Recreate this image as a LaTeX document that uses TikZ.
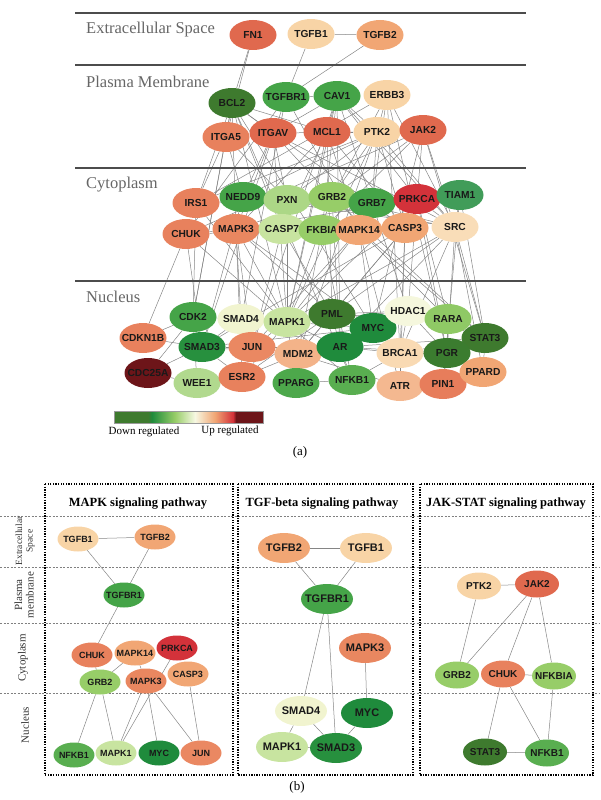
\documentclass[tikz,border=0pt]{standalone}
\usepackage{fontspec}
\setmainfont{Liberation Serif}
\setsansfont{Liberation Sans}
\usetikzlibrary{positioning, shapes.geometric, backgrounds}
\definecolor{cG1}{HTML}{3E7A2E}
\definecolor{cG2}{HTML}{1F8B3C}
\definecolor{cG3}{HTML}{45A448}
\definecolor{cG4}{HTML}{97CD68}
\definecolor{cG5}{HTML}{C8E4A0}
\definecolor{cG6}{HTML}{F1F4CF}
\definecolor{cO1}{HTML}{F8D4A6}
\definecolor{cO2}{HTML}{F1A674}
\definecolor{cO3}{HTML}{E8815D}
\definecolor{cO4}{HTML}{E0694E}
\definecolor{cR1}{HTML}{D3323A}
\definecolor{cR2}{HTML}{6D1519}
\tikzset{
  gene/.style={ellipse, inner ysep=0pt, inner xsep=-5pt, text=black!90,
    font=\sffamily\bfseries\fontsize{10.2}{11}\selectfont,
    minimum width=47pt, minimum height=30pt},
  mk/.style={gene, inner xsep=-4pt, font=\sffamily\bfseries\fontsize{9}{10}\selectfont,
    minimum width=41pt, minimum height=25pt},
  tg/.style={gene, inner xsep=-5pt, font=\sffamily\bfseries\fontsize{11}{12}\selectfont,
    minimum width=52pt, minimum height=30pt},
  js/.style={gene, inner xsep=-5pt, font=\sffamily\bfseries\fontsize{10}{11}\selectfont,
    minimum width=44pt, minimum height=27pt},
  lnk/.style={draw=black!48, line width=0.5pt},
  zone/.style={draw=black!70, line width=1.7pt},
  zlbl/.style={anchor=west, inner sep=0pt, text=black!60, font=\fontsize{16.5}{18}\selectfont},
  dotbox/.style={draw=black, line width=1.5pt, dash pattern=on 1.3pt off 1.3pt},
  band/.style={draw=black!50, line width=0.4pt, dash pattern=on 2pt off 1.5pt},
  side/.style={rotate=90, align=center, text=black!80, font=\fontsize{11}{11.5}\selectfont},
  ttl/.style={font=\bfseries\fontsize{12.5}{14}\selectfont},
  subcap/.style={font=\fontsize{13}{15}\selectfont},
  keylbl/.style={font=\fontsize{11}{12}\selectfont},
}
\begin{document}
\begin{tikzpicture}[x=1pt, y=-1pt]
  \useasboundingbox (0,0) rectangle (600,800);

  % (a) compartments
  \draw[zone] (75,13) -- (526,13);
  \draw[zone] (75,65) -- (526,65);
  \draw[zone] (75,168) -- (526,168);
  \draw[zone] (75,281) -- (526,281);
  \node[zlbl] (l-ext) at (86,30) {Extracellular Space};
  \node[zlbl] (l-pm) at (86,82) {Plasma Membrane};
  \node[zlbl] (l-cyt) at (86,185) {Cytoplasm};
  \node[zlbl] (l-nuc) at (86,297) {Nucleus};

  \node[gene, fill=cO4] (fn1) at (253,35) {FN1};
  \node[gene, fill=cO1] (tgfb1) at (311,34) {TGFB1};
  \node[gene, fill=cO2] (tgfb2) at (380,35) {TGFB2};

  \node[gene, fill=cG1] (bcl2) at (232,103) {BCL2};
  \node[gene, fill=cG3] (tgfbr1) at (286,97) {TGFBR1};
  \node[gene, fill=cG3] (cav1) at (337,96) {CAV1};
  \node[gene, fill=cO1] (erbb3) at (387,95) {ERBB3};
  \node[gene, fill=cO3] (itga5) at (226,137) {ITGA5};
  \node[gene, fill=cO4] (itgav) at (273,133) {ITGAV};
  \node[gene, fill=cO4] (mcl1) at (327,132) {MCL1};
  \node[gene, fill=cO1] (ptk2) at (377,132) {PTK2};
  \node[gene, fill=cO4] (jak2) at (423,130) {JAK2};

  \node[gene, fill=cO3] (irs1) at (196,203) {IRS1};
  \node[gene, fill=cG3] (nedd9) at (243,197) {NEDD9};
  \node[gene, fill=cG4!80!white] (pxn) at (287,200) {PXN};
  \node[gene, fill=cG4] (grb2) at (332,197) {GRB2};
  \node[gene, fill=cG3] (grb7) at (372,203) {GRB7};
  \node[gene, fill=cR1] (prkca) at (417,199) {PRKCA};
  \node[gene, fill=cG2!85!white] (tiam1) at (460,195) {TIAM1};
  \node[gene, fill=cO3] (chuk) at (186,234) {CHUK};
  \node[gene, fill=cO3!85!cO2] (mapk3) at (236,229) {MAPK3};
  \node[gene, fill=cG5] (casp7) at (282,229) {CASP7};
  \node[gene, fill=cG4] (fkbia) at (322,230) {FKBIA};
  \node[gene, fill=cO2] (mapk14) at (359,230) {MAPK14};
  \node[gene, fill=cO2] (casp3) at (405,228) {CASP3};
  \node[gene, fill=cO1!80!white] (src) at (455,227) {SRC};

  \node[gene, fill=cG3] (cdk2) at (193,317) {CDK2};
  \node[gene, fill=cG6] (smad4) at (241,319) {SMAD4};
  \node[gene, fill=cG5] (mapk1) at (287,322) {MAPK1};
  \node[gene, fill=cG1] (pml) at (332,314) {PML};
  \node[gene, fill=cG2] (myc) at (373,328) {MYC};
  \node[gene, fill=cG6!70!white] (hdac1) at (408,311) {HDAC1};
  \node[gene, fill=cG4!90!cG3] (rara) at (448,319) {RARA};
  \node[gene, fill=cO3] (cdkn1b) at (143,338) {CDKN1B};
  \node[gene, fill=cG2!80!cG3] (smad3) at (202,347) {SMAD3};
  \node[gene, fill=cO3!80!cO2] (jun) at (252,347) {JUN};
  \node[gene, fill=cO2!85!white] (mdm2) at (298,354) {MDM2};
  \node[gene, fill=cG2] (ar) at (340,347) {AR};
  \node[gene, fill=cO1!85!white] (brca1) at (400,353) {BRCA1};
  \node[gene, fill=cG1] (stat3) at (485,338) {STAT3};
  \node[gene, fill=cG1!90!cG2] (pgr) at (447,353) {PGR};
  \node[gene, fill=cR2] (cdc25a) at (148,373) {CDC25A};
  \node[gene, fill=cG4!75!white] (wee1) at (197,383) {WEE1};
  \node[gene, fill=cO3] (esr2) at (242,377) {ESR2};
  \node[gene, fill=cG3!90!cG4] (pparg) at (296,383) {PPARG};
  \node[gene, fill=cG3!75!cG4] (nfkb1) at (352,380) {NFKB1};
  \node[gene, fill=cO2!80!white] (atr) at (400,386) {ATR};
  \node[gene, fill=cO3!85!cO4] (pin1) at (443,384) {PIN1};
  \node[gene, fill=cO2] (ppard) at (483,372) {PPARD};

  \begin{scope}[on background layer]
    \draw[lnk] (fn1)--(bcl2); \draw[lnk] (fn1)--(itga5); \draw[lnk] (tgfb1)--(tgfb2);
    \draw[lnk] (tgfb1)--(tgfbr1); \draw[lnk] (tgfb2)--(tgfbr1);
    \draw[lnk] (bcl2)--(itga5); \draw[lnk] (bcl2)--(itgav); \draw[lnk] (bcl2)--(mcl1);
    \draw[lnk] (tgfbr1)--(cav1); \draw[lnk] (cav1)--(itgav); \draw[lnk] (cav1)--(mcl1);
    \draw[lnk] (erbb3)--(ptk2); \draw[lnk] (mcl1)--(ptk2); \draw[lnk] (ptk2)--(jak2);
    \draw[lnk] (itgav)--(ptk2); \draw[lnk] (cav1)--(ptk2);
    \draw[lnk] (bcl2)--(irs1); \draw[lnk] (bcl2)--(mapk3); \draw[lnk] (bcl2)--(casp7);
    \draw[lnk] (bcl2)--(casp3); \draw[lnk] (itga5)--(irs1); \draw[lnk] (itga5)--(nedd9);
    \draw[lnk] (itga5)--(pxn); \draw[lnk] (itgav)--(pxn); \draw[lnk] (itgav)--(src);
    \draw[lnk] (itgav)--(grb2); \draw[lnk] (itgav)--(mapk3); \draw[lnk] (itgav)--(nedd9);
    \draw[lnk] (tgfbr1)--(mapk14); \draw[lnk] (tgfbr1)--(chuk); \draw[lnk] (cav1)--(src);
    \draw[lnk] (cav1)--(grb7); \draw[lnk] (cav1)--(prkca); \draw[lnk] (cav1)--(fkbia);
    \draw[lnk] (erbb3)--(grb2); \draw[lnk] (erbb3)--(grb7); \draw[lnk] (erbb3)--(src);
    \draw[lnk] (erbb3)--(irs1); \draw[lnk] (mcl1)--(casp3); \draw[lnk] (mcl1)--(mapk3);
    \draw[lnk] (mcl1)--(mapk14); \draw[lnk] (mcl1)--(casp7); \draw[lnk] (ptk2)--(pxn);
    \draw[lnk] (ptk2)--(grb2); \draw[lnk] (ptk2)--(grb7); \draw[lnk] (ptk2)--(nedd9);
    \draw[lnk] (ptk2)--(src); \draw[lnk] (ptk2)--(casp3); \draw[lnk] (ptk2)--(irs1);
    \draw[lnk] (jak2)--(grb2); \draw[lnk] (jak2)--(src); \draw[lnk] (jak2)--(prkca);
    \draw[lnk] (jak2)--(chuk); \draw[lnk] (jak2)--(fkbia);
    \draw[lnk] (bcl2)--(cdk2); \draw[lnk] (bcl2)--(mapk1); \draw[lnk] (bcl2)--(nfkb1);
    \draw[lnk] (bcl2)--(myc); \draw[lnk] (itga5)--(cdk2); \draw[lnk] (itgav)--(mapk1);
    \draw[lnk] (tgfbr1)--(smad3); \draw[lnk] (tgfbr1)--(smad4); \draw[lnk] (cav1)--(ar);
    \draw[lnk] (cav1)--(mapk1); \draw[lnk] (cav1)--(esr2); \draw[lnk] (mcl1)--(mapk1);
    \draw[lnk] (mcl1)--(pml); \draw[lnk] (ptk2)--(mapk1); \draw[lnk] (ptk2)--(mdm2);
    \draw[lnk] (jak2)--(stat3); \draw[lnk] (jak2)--(myc); \draw[lnk] (erbb3)--(brca1);
    \draw[lnk] (erbb3)--(pgr);
    \draw[lnk] (irs1)--(grb2); \draw[lnk] (nedd9)--(pxn); \draw[lnk] (nedd9)--(src);
    \draw[lnk] (pxn)--(src); \draw[lnk] (grb2)--(grb7); \draw[lnk] (grb2)--(src);
    \draw[lnk] (grb2)--(mapk3); \draw[lnk] (grb7)--(prkca); \draw[lnk] (prkca)--(tiam1);
    \draw[lnk] (tiam1)--(src); \draw[lnk] (chuk)--(fkbia); \draw[lnk] (chuk)--(mapk3);
    \draw[lnk] (mapk3)--(mapk14); \draw[lnk] (casp7)--(casp3); \draw[lnk] (fkbia)--(mapk14);
    \draw[lnk] (prkca)--(mapk3); \draw[lnk] (prkca)--(src); \draw[lnk] (irs1)--(pxn);
    \draw[lnk] (irs1)--(mapk1); \draw[lnk] (irs1)--(cdk2); \draw[lnk] (chuk)--(nfkb1);
    \draw[lnk] (chuk)--(cdkn1b); \draw[lnk] (chuk)--(smad3); \draw[lnk] (nedd9)--(smad3);
    \draw[lnk] (mapk3)--(mapk1); \draw[lnk] (mapk3)--(myc); \draw[lnk] (mapk3)--(jun);
    \draw[lnk] (mapk3)--(esr2); \draw[lnk] (mapk3)--(pml); \draw[lnk] (mapk3)--(smad4);
    \draw[lnk] (pxn)--(mapk1); \draw[lnk] (grb2)--(mapk1); \draw[lnk] (grb2)--(stat3);
    \draw[lnk] (grb2)--(ar); \draw[lnk] (grb7)--(hdac1); \draw[lnk] (casp7)--(pml);
    \draw[lnk] (casp7)--(jun); \draw[lnk] (fkbia)--(nfkb1); \draw[lnk] (fkbia)--(mdm2);
    \draw[lnk] (mapk14)--(jun); \draw[lnk] (mapk14)--(myc); \draw[lnk] (mapk14)--(stat3);
    \draw[lnk] (mapk14)--(mapk1); \draw[lnk] (mapk14)--(atr); \draw[lnk] (mapk14)--(rara);
    \draw[lnk] (casp3)--(mdm2); \draw[lnk] (casp3)--(brca1); \draw[lnk] (casp3)--(pml);
    \draw[lnk] (casp3)--(smad3); \draw[lnk] (casp3)--(atr); \draw[lnk] (prkca)--(mapk1);
    \draw[lnk] (prkca)--(rara); \draw[lnk] (prkca)--(pgr); \draw[lnk] (prkca)--(hdac1);
    \draw[lnk] (src)--(stat3); \draw[lnk] (src)--(ar); \draw[lnk] (src)--(pgr);
    \draw[lnk] (src)--(esr2); \draw[lnk] (src)--(mapk1); \draw[lnk] (src)--(brca1);
    \draw[lnk] (src)--(ppard); \draw[lnk] (tiam1)--(pin1); \draw[lnk] (tiam1)--(stat3);
    \draw[lnk] (cdk2)--(cdkn1b); \draw[lnk] (cdk2)--(smad3); \draw[lnk] (cdk2)--(cdc25a);
    \draw[lnk] (cdk2)--(wee1); \draw[lnk] (cdk2)--(smad4); \draw[lnk] (cdkn1b)--(smad3);
    \draw[lnk] (cdc25a)--(smad3); \draw[lnk] (cdc25a)--(wee1); \draw[lnk] (smad4)--(smad3);
    \draw[lnk] (smad4)--(mapk1); \draw[lnk] (smad3)--(jun); \draw[lnk] (smad3)--(myc);
    \draw[lnk] (smad3)--(ar); \draw[lnk] (smad3)--(esr2); \draw[lnk] (smad3)--(mdm2);
    \draw[lnk] (jun)--(mapk1); \draw[lnk] (jun)--(esr2); \draw[lnk] (jun)--(ar);
    \draw[lnk] (jun)--(mdm2); \draw[lnk] (mapk1)--(pml); \draw[lnk] (mapk1)--(myc);
    \draw[lnk] (mapk1)--(ar); \draw[lnk] (mapk1)--(esr2); \draw[lnk] (mapk1)--(pparg);
    \draw[lnk] (mapk1)--(hdac1); \draw[lnk] (pml)--(myc); \draw[lnk] (pml)--(hdac1);
    \draw[lnk] (pml)--(ar); \draw[lnk] (pml)--(mdm2); \draw[lnk] (myc)--(hdac1);
    \draw[lnk] (myc)--(brca1); \draw[lnk] (hdac1)--(rara); \draw[lnk] (hdac1)--(brca1);
    \draw[lnk] (hdac1)--(stat3); \draw[lnk] (hdac1)--(pgr); \draw[lnk] (rara)--(stat3);
    \draw[lnk] (rara)--(pgr); \draw[lnk] (mdm2)--(ar); \draw[lnk] (mdm2)--(pparg);
    \draw[lnk] (mdm2)--(atr); \draw[lnk] (ar)--(brca1); \draw[lnk] (ar)--(pgr);
    \draw[lnk] (ar)--(stat3); \draw[lnk] (ar)--(nfkb1); \draw[lnk] (brca1)--(atr);
    \draw[lnk] (brca1)--(pgr); \draw[lnk] (brca1)--(stat3); \draw[lnk] (pgr)--(stat3);
    \draw[lnk] (pgr)--(pin1); \draw[lnk] (stat3)--(ppard); \draw[lnk] (nfkb1)--(brca1);
    \draw[lnk] (nfkb1)--(pparg); \draw[lnk] (pin1)--(atr); \draw[lnk] (esr2)--(wee1);
    \draw[lnk] (esr2)--(mdm2);
  \end{scope}

  % colour key
  \fill[cG1] (114,411) rectangle (148,423);
  \shade[left color=cG1, right color=cG2] (148,411) rectangle (152,423);
  \shade[left color=cG2, right color=cG4] (152,411) rectangle (175,423);
  \shade[left color=cG4, right color=cG6!60!white] (175,411) rectangle (195,423);
  \shade[left color=cG6!60!white, right color=cO2] (195,411) rectangle (215,423);
  \shade[left color=cO2, right color=cR1] (215,411) rectangle (233,423);
  \shade[left color=cR1, right color=cR2] (233,411) rectangle (236,423);
  \fill[cR2] (236,411) rectangle (263,423);
  \draw[black!40, line width=0.4pt] (114,411) rectangle (263,423);
  \node[keylbl] (k-down) at (144,432) {Down regulated};
  \node[keylbl] (k-up) at (230,431) {Up regulated};
  \node[subcap] (cap-a) at (300,452) {(a)};

  % (b) pathways
  \draw[band] (0,516) -- (600,516);
  \draw[band] (0,567) -- (600,567);
  \draw[band] (0,623) -- (600,623);
  \draw[band] (0,693) -- (600,693);
  \draw[dotbox] (45,484) rectangle (233,775);
  \draw[dotbox] (238,484) rectangle (413,775);
  \draw[dotbox] (420,484) rectangle (593,775);
  \node[ttl] (t-mapk) at (138,504) {MAPK signaling pathway};
  \node[ttl] (t-tgf) at (322,504) {TGF-beta signaling pathway};
  \node[ttl] (t-jak) at (506,504) {JAK-STAT signaling pathway};
  \node[side, font=\fontsize{9.5}{10.5}\selectfont] (s-ext) at (25,541) {Extracellular\\Space};
  \node[side] (s-pm) at (24,595) {Plasma\\membrane};
  \node[side] (s-cyt) at (23,658) {Cytoplasm};
  \node[side] (s-nuc) at (25,725) {Nucleus};

  \node[mk, fill=cO1] (mk-tgfb1) at (78,539) {TGFB1};
  \node[mk, fill=cO2] (mk-tgfb2) at (155,537) {TGFB2};
  \node[mk, fill=cG3] (mk-tgfbr1) at (124,595) {TGFBR1};
  \node[mk, fill=cO3] (mk-chuk) at (92,655) {CHUK};
  \node[mk, fill=cO2] (mk-mapk14) at (135,653) {MAPK14};
  \node[mk, fill=cR1] (mk-prkca) at (177,648) {PRKCA};
  \node[mk, fill=cG4] (mk-grb2) at (100,682) {GRB2};
  \node[mk, fill=cO3!85!cO2] (mk-mapk3) at (146,681) {MAPK3};
  \node[mk, fill=cO2] (mk-casp3) at (188,674) {CASP3};
  \node[mk, fill=cG3!75!cG4] (mk-nfkb1) at (74,755) {NFKB1};
  \node[mk, fill=cG5] (mk-mapk1) at (116,753) {MAPK1};
  \node[mk, fill=cG2] (mk-myc) at (159,753) {MYC};
  \node[mk, fill=cO3!80!cO2] (mk-jun) at (201,753) {JUN};

  \node[tg, fill=cO2] (tg-tgfb2) at (284,548) {TGFB2};
  \node[tg, fill=cO1] (tg-tgfb1) at (366,548) {TGFB1};
  \node[tg, fill=cG3] (tg-tgfbr1) at (327,599) {TGFBR1};
  \node[tg, fill=cO3!85!cO2] (tg-mapk3) at (365,648) {MAPK3};
  \node[tg, fill=cG6] (tg-smad4) at (301,711) {SMAD4};
  \node[tg, fill=cG2] (tg-myc) at (367,713) {MYC};
  \node[tg, fill=cG5] (tg-mapk1) at (282,747) {MAPK1};
  \node[tg, fill=cG2!80!cG3] (tg-smad3) at (336,748) {SMAD3};

  \node[js, fill=cO1] (js-ptk2) at (479,586) {PTK2};
  \node[js, fill=cO4] (js-jak2) at (537,584) {JAK2};
  \node[js, fill=cG4] (js-grb2) at (457,675) {GRB2};
  \node[js, fill=cO3] (js-chuk) at (503,674) {CHUK};
  \node[js, fill=cG4] (js-nfkbia) at (554,676) {NFKBIA};
  \node[js, fill=cG1] (js-stat3) at (485,752) {STAT3};
  \node[js, fill=cG3!75!cG4] (js-nfkb1) at (547,753) {NFKB1};

  \begin{scope}[on background layer]
    \draw[lnk] (mk-tgfb1)--(mk-tgfb2); \draw[lnk] (mk-tgfb1)--(mk-tgfbr1);
    \draw[lnk] (mk-tgfb2)--(mk-tgfbr1); \draw[lnk] (mk-tgfbr1)--(mk-chuk);
    \draw[lnk] (mk-chuk)--(mk-grb2); \draw[lnk] (mk-mapk14)--(mk-grb2);
    \draw[lnk] (mk-mapk14)--(mk-mapk3); \draw[lnk] (mk-grb2)--(mk-nfkb1);
    \draw[lnk] (mk-grb2)--(mk-mapk1); \draw[lnk] (mk-mapk3)--(mk-mapk1);
    \draw[lnk] (mk-prkca)--(mk-mapk1); \draw[lnk] (mk-mapk3)--(mk-myc);
    \draw[lnk] (mk-mapk3)--(mk-jun); \draw[lnk] (mk-casp3)--(mk-jun);
    \draw[lnk] (tg-tgfb2)--(tg-tgfb1); \draw[lnk] (tg-tgfb2)--(tg-tgfbr1);
    \draw[lnk] (tg-tgfb1)--(tg-tgfbr1); \draw[lnk] (tg-tgfbr1)--(tg-smad4);
    \draw[lnk] (tg-tgfbr1)--(tg-smad3); \draw[lnk] (tg-mapk3)--(tg-myc);
    \draw[lnk] (tg-smad4)--(tg-mapk1); \draw[lnk] (tg-smad4)--(tg-smad3);
    \draw[lnk] (tg-mapk1)--(tg-smad3); \draw[lnk] (tg-myc)--(tg-smad3);
    \draw[lnk] (js-ptk2)--(js-jak2); \draw[lnk] (js-ptk2)--(js-grb2);
    \draw[lnk] (js-jak2)--(js-grb2); \draw[lnk] (js-jak2)--(js-chuk);
    \draw[lnk] (js-jak2)--(js-nfkbia); \draw[lnk] (js-chuk)--(js-nfkbia);
    \draw[lnk] (js-chuk)--(js-stat3); \draw[lnk] (js-chuk)--(js-nfkb1);
    \draw[lnk] (js-nfkbia)--(js-nfkb1); \draw[lnk] (js-stat3)--(js-nfkb1);
  \end{scope}
  \node[subcap] (cap-b) at (297,787) {(b)};
\end{tikzpicture}
\end{document}
